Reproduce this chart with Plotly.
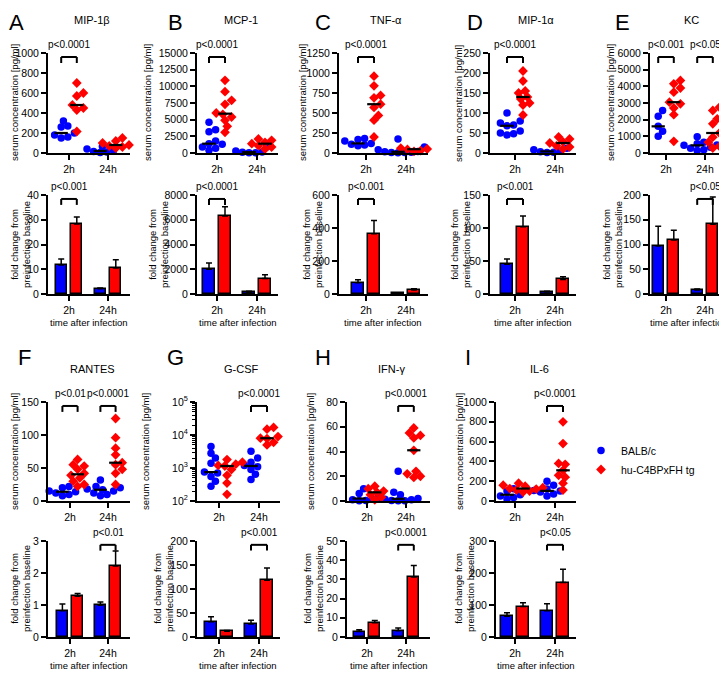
import numpy as np
import plotly.graph_objects as go

W, H = 727, 674
OX, OY = 8, 8   # page body margin: figure origin sits 8px into the window
BLUE = "#0000ff"
RED = "#ff0000"
FONT = "Liberation Sans, Arial, Helvetica, sans-serif"

time_labels = ["2h", "24h"]
group_names = ["BALB/c", "hu-C4BPxFH tg"]

# ---------------- serum concentrations [pg/ml] (individual mice) ----------------
mip1b_balb_2h = [320, 270, 260, 200, 180, 160, 150]
mip1b_tg_2h = [700, 600, 570, 480, 450, 430, 215]
mip1b_balb_24h = [65, 40, 25, 15, 10, 5]
mip1b_tg_24h = [150, 120, 100, 80, 70, 60, 50]

mcp1_balb_2h = [4600, 3500, 3200, 1800, 1400, 1300, 900, 700, 400]
mcp1_tg_2h = [10900, 9200, 7900, 7300, 6000, 5800, 5400, 4900, 4000, 3100]
mcp1_balb_24h = [900, 300, 150, 100, 50, 30]
mcp1_tg_24h = [2400, 2100, 1900, 1600, 1400, 1300, 1100, 900, 600]

tnfa_balb_2h = [180, 170, 150, 120, 110, 100, 90]
tnfa_tg_2h = [960, 840, 720, 690, 610, 570, 470, 410, 200]
tnfa_balb_24h = [175, 75, 40, 20, 15, 10, 5, 5, 3]
tnfa_tg_24h = [75, 60, 50, 45, 30, 20]

mip1a_balb_2h = [100, 80, 75, 70, 68, 55, 50, 48, 45]
mip1a_tg_2h = [205, 180, 155, 150, 140, 135, 125, 120, 95]
mip1a_balb_24h = [12, 8, 5, 3, 2, 1]
mip1a_tg_24h = [40, 35, 30, 28, 25, 22, 18, 15, 10]

kc_balb_2h = [2550, 2200, 1600, 1300, 1000]
kc_tg_2h = [4350, 4150, 3900, 3650, 3050, 2950, 2700, 2300, 700]
kc_balb_24h = [980, 650, 550, 480, 460, 350, 280, 200, 150]
kc_tg_24h = [2750, 2550, 2050, 1750, 1200, 950, 650, 400, 300]

rantes_balb_2h = [22, 20, 15, 14, 12, 10, 8]
rantes_tg_2h = [63, 55, 53, 48, 42, 39, 35, 30, 25, 22]
rantes_balb_24h = [32, 22, 20, 18, 17, 15, 12, 10, 8]
rantes_tg_24h = [125, 96, 80, 70, 58, 55, 48, 42, 25]

gcsf_balb_2h = [4500, 2800, 2000, 1400, 750, 700, 550, 400, 280]
gcsf_tg_2h = [1800, 1500, 1300, 1200, 1150, 900, 600, 350, 160]
gcsf_balb_24h = [3200, 2000, 1500, 1200, 1100, 900, 650, 450]
gcsf_tg_24h = [17000, 15000, 9000, 8000, 7800, 6000, 5000]

ifng_balb_2h = [10, 6, 4, 3, 2, 1.5, 1, 0.5, 0.2]
ifng_tg_2h = [12, 10, 8, 7, 5, 3, 1]
ifng_balb_24h = [24, 7, 5, 3, 2, 1.5, 1, 0.5, 0.3, 0.2]
ifng_tg_24h = [59, 55, 53, 51, 41, 24, 22, 20, 19]

il6_balb_2h = [125, 100, 80, 63, 50, 35, 20]
il6_tg_2h = [180, 160, 150, 135, 126, 120, 110, 100, 90]
il6_balb_24h = [200, 160, 120, 105, 100, 90, 70, 50]
il6_tg_24h = [800, 580, 380, 370, 310, 260, 240, 180, 110]

# ---------------- fold change from preinfection baseline (mean, SEM) [2h, 24h] ----------------
mip1b_fold_balb = [11.7, 2.1]
mip1b_sem_balb = [2.4, 0.3]
mip1b_fold_tg = [28.3, 10.5]
mip1b_sem_tg = [2.8, 3.3]

mcp1_fold_balb = [2000, 150]
mcp1_sem_balb = [500, 80]
mcp1_fold_tg = [6300, 1250]
mcp1_sem_tg = [750, 300]

tnfa_fold_balb = [68, 5]
tnfa_sem_balb = [19, 2]
tnfa_fold_tg = [365, 25]
tnfa_sem_tg = [80, 7]

mip1a_fold_balb = [45, 3]
mip1a_sem_balb = [8, 1]
mip1a_fold_tg = [102, 22]
mip1a_sem_tg = [16, 4]

kc_fold_balb = [97, 8]
kc_sem_balb = [40, 2]
kc_fold_tg = [109, 141]
kc_sem_tg = [20, 55]

rantes_fold_balb = [0.82, 0.99]
rantes_sem_balb = [0.21, 0.10]
rantes_fold_tg = [1.27, 2.22]
rantes_sem_tg = [0.09, 0.47]

gcsf_fold_balb = [32, 27]
gcsf_sem_balb = [10, 8]
gcsf_fold_tg = [12, 118]
gcsf_sem_tg = [1.5, 26]

ifng_fold_balb = [2.8, 3.2]
ifng_sem_balb = [1.0, 1.5]
ifng_fold_tg = [7.4, 31.3]
ifng_sem_tg = [1.2, 6.0]

il6_fold_balb = [65, 82]
il6_sem_balb = [11, 22]
il6_fold_tg = [95, 170]
il6_sem_tg = [12, 42]

# ---------------- panel configuration (window pixel positions) ----------------
panels = [
    dict(letter="A", title="MIP-1β", row=0, L=48, P2=69, P24=108, R=130, lx=16,
         sc=(mip1b_balb_2h, mip1b_balb_24h, mip1b_tg_2h, mip1b_tg_24h), scmax=1000, scd=200,
         bar=(mip1b_fold_balb, mip1b_sem_balb, mip1b_fold_tg, mip1b_sem_tg), bmax=40, bd=10,
         scp=[(0, "p<0.0001")], bp=[(0, "p<0.001")], tsx=14, tbx=20),
    dict(letter="B", title="MCP-1", row=0, L=197, P2=217, P24=257, R=278, lx=175,
         sc=(mcp1_balb_2h, mcp1_balb_24h, mcp1_tg_2h, mcp1_tg_24h), scmax=15000, scd=2500,
         bar=(mcp1_fold_balb, mcp1_sem_balb, mcp1_fold_tg, mcp1_sem_tg), bmax=8000, bd=2000,
         scp=[(0, "p<0.0001")], bp=[(0, "p<0.0001")], tsx=147, tbx=158),
    dict(letter="C", title="TNF-α", row=0, L=339, P2=366, P24=406, R=428, lx=323,
         sc=(tnfa_balb_2h, tnfa_balb_24h, tnfa_tg_2h, tnfa_tg_24h), scmax=1250, scd=250,
         bar=(tnfa_fold_balb, tnfa_sem_balb, tnfa_fold_tg, tnfa_sem_tg), bmax=600, bd=200,
         scp=[(0, "p<0.0001")], bp=[(0, "p<0.001")], tsx=302, tbx=312),
    dict(letter="D", title="MIP-1α", row=0, L=490, P2=515, P24=555, R=576, lx=475,
         sc=(mip1a_balb_2h, mip1a_balb_24h, mip1a_tg_2h, mip1a_tg_24h), scmax=250, scd=50,
         bar=(mip1a_fold_balb, mip1a_sem_balb, mip1a_fold_tg, mip1a_sem_tg), bmax=150, bd=50,
         scp=[(0, "p<0.0001")], bp=[(0, "p<0.001")], tsx=458, tbx=460),
    dict(letter="E", title="KC", row=0, L=650, P2=666, P24=705, R=727, lx=622,
         sc=(kc_balb_2h, kc_balb_24h, kc_tg_2h, kc_tg_24h), scmax=6000, scd=1000,
         bar=(kc_fold_balb, kc_sem_balb, kc_fold_tg, kc_sem_tg), bmax=200, bd=50,
         scp=[(0, "p<0.001"), (1, "p<0.05")], bp=[(1, "p<0.05")], tsx=610, tbx=612),
    dict(letter="F", title="RANTES", row=1, L=48, P2=70, P24=108, R=130, lx=24,
         sc=(rantes_balb_2h, rantes_balb_24h, rantes_tg_2h, rantes_tg_24h), scmax=150, scd=50,
         bar=(rantes_fold_balb, rantes_sem_balb, rantes_fold_tg, rantes_sem_tg), bmax=3, bd=1,
         scp=[(0, "p<0.01"), (1, "p<0.0001")], bp=[(1, "p<0.01")], tsx=14, tbx=20),
    dict(letter="G", title="G-CSF", row=1, L=197, P2=219, P24=259, R=280, lx=175,
         sc=(gcsf_balb_2h, gcsf_balb_24h, gcsf_tg_2h, gcsf_tg_24h), scmax=None, scd=None,
         bar=(gcsf_fold_balb, gcsf_sem_balb, gcsf_fold_tg, gcsf_sem_tg), bmax=200, bd=50,
         scp=[(1, "p<0.0001")], bp=[(1, "p<0.001")], tsx=145, tbx=163),
    dict(letter="H", title="IFN-γ", row=1, L=347, P2=367, P24=406, R=430, lx=323,
         sc=(ifng_balb_2h, ifng_balb_24h, ifng_tg_2h, ifng_tg_24h), scmax=80, scd=20,
         bar=(ifng_fold_balb, ifng_sem_balb, ifng_fold_tg, ifng_sem_tg), bmax=50, bd=10,
         scp=[(1, "p<0.0001")], bp=[(1, "p<0.0001")], tsx=310, tbx=313),
    dict(letter="I", title="IL-6", row=1, L=496, P2=515, P24=555, R=576, lx=468,
         sc=(il6_balb_2h, il6_balb_24h, il6_tg_2h, il6_tg_24h), scmax=1000, scd=200,
         bar=(il6_fold_balb, il6_sem_balb, il6_fold_tg, il6_sem_tg), bmax=300, bd=100,
         scp=[(1, "p<0.0001")], bp=[(1, "p<0.05")], tsx=459, tbx=464),
]

ROWS = [
    dict(sc=(53, 153), bar=(195, 294), title_y=20, letter_top=8, xlab_y=322, tsy=103, tby=245),
    dict(sc=(402, 501), bar=(541, 637), title_y=369, letter_top=343, xlab_y=665, tsy=452, tby=589),
]


def fx(xw):
    return (xw - OX) / W


def fy(yw):
    return 1 - (yw - OY) / H


GOFF = 0.2     # group offset (category units)
BARW = 0.29    # bar width (category units)
MEDW = 0.17    # half width of median line


def swarm(vals, px_per_unit, unit_px, log=False, d=6.3, step=2.2):
    ys = [(np.log10(v) if log else v) * px_per_unit for v in vals]
    order = np.argsort(ys)
    placed = []
    offs = [0.0] * len(vals)
    cands = [0.0] + [s * j * step for j in range(1, 30) for s in (1, -1)]
    for i in order:
        y = ys[i]
        for c in cands:
            if all((c - px) ** 2 + (y - py) ** 2 >= d * d for px, py in placed):
                break
        placed.append((c, y))
        offs[i] = c / unit_px
    return offs


def axis_common():
    return dict(showline=True, linecolor="black", linewidth=2, ticks="outside", ticklen=5,
                tickwidth=2, tickcolor="black", showgrid=False, zeroline=False,
                automargin=False, fixedrange=True,
                tickfont=dict(family=FONT, size=10.5, color="black"))


fig = go.Figure()
layout = dict(width=W, height=H, margin=dict(l=0, r=0, t=0, b=0), paper_bgcolor="white",
              plot_bgcolor="white", font=dict(family=FONT, size=10, color="black"),
              showlegend=True,
              legend=dict(x=fx(581), y=fy(436), xanchor="left", yanchor="top",
                          bgcolor="rgba(0,0,0,0)", font=dict(family=FONT, size=10.5, color="black"),
                          tracegroupgap=0, itemwidth=30))
shapes = []
annotations = []


def bracket(xr, yr, pos, text):
    x0, x1 = pos - GOFF, pos + GOFF
    for (a, b, c, d_) in [(x0, 0.90, x0, 0.96), (x0, 0.96, x1, 0.96), (x1, 0.96, x1, 0.90)]:
        shapes.append(dict(type="line", xref=xr, yref=yr + " domain", x0=a, y0=b, x1=c, y1=d_,
                           line=dict(color="black", width=2)))
    annotations.append(dict(x=pos, y=1.085, xref=xr, yref=yr + " domain", text=text,
                            showarrow=False, yanchor="middle",
                            font=dict(family=FONT, size=10, color="black")))


for i, p in enumerate(panels):
    rg = ROWS[p["row"]]
    u = p["P24"] - p["P2"]
    xrng = [1 - (p["P2"] - p["L"]) / u, 2 + (p["R"] - p["P24"]) / u]
    xdom = [fx(p["L"]), fx(p["R"])]
    cx = (p["L"] + p["R"]) / 2

    # ---------- scatter panel ----------
    n = 2 * i + 1
    xa, ya = ("xaxis", "yaxis") if n == 1 else (f"xaxis{n}", f"yaxis{n}")
    xr, yr = ("x", "y") if n == 1 else (f"x{n}", f"y{n}")
    top, bot = rg["sc"]
    layout[xa] = dict(**axis_common(), domain=xdom, range=xrng, tickmode="array",
                      tickvals=[1, 2], ticktext=time_labels, anchor=yr)
    logax = p["scmax"] is None
    if logax:
        minor_vals = [m * 10 ** e for e in (2, 3, 4) for m in range(2, 10)]
        layout[ya] = dict(**axis_common(), domain=[fy(bot), fy(top)], anchor=xr,
                          type="log", range=[2, 5], tickmode="array",
                          tickvals=[1e2, 1e3, 1e4, 1e5],
                          ticktext=["10<sup>2</sup>", "10<sup>3</sup>", "10<sup>4</sup>", "10<sup>5</sup>"],
                          minor=dict(tickmode="array", tickvals=minor_vals, ticks="outside",
                                     ticklen=3, tickwidth=1, tickcolor="black"))
        ppu = (bot - top) / 3.0
    else:
        layout[ya] = dict(**axis_common(), domain=[fy(bot), fy(top)], anchor=xr,
                          range=[0, p["scmax"]], tickmode="linear", tick0=0, dtick=p["scd"],
                          tickformat="d")
        ppu = (bot - top) / p["scmax"]

    b2, b24, r2, r24 = p["sc"]
    groups = [(b2, b24, -GOFF, BLUE, "circle", 7.5, group_names[0]),
              (r2, r24, GOFF, RED, "diamond", 7.5, group_names[1])]
    for (v2, v24, off, col, sym, size, nm) in groups:
        xs, ys = [], []
        for pos, vals in ((1, v2), (2, v24)):
            offs = swarm(vals, ppu, u, log=logax)
            xs += [pos + off + o for o in offs]
            ys += list(vals)
        fig.add_trace(go.Scatter(x=xs, y=ys, mode="markers", xaxis=xr, yaxis=yr, name=nm,
                                 legendgroup=nm, showlegend=(i == 0), cliponaxis=False,
                                 marker=dict(color=col, symbol=sym, size=size, line=dict(width=0))))
    # median lines
    mx, my = [], []
    for pos, vals, off in ((1, b2, -GOFF), (2, b24, -GOFF), (1, r2, GOFF), (2, r24, GOFF)):
        m = float(np.median(vals))
        mx += [pos + off - MEDW, pos + off + MEDW, None]
        my += [m, m, None]
    fig.add_trace(go.Scatter(x=mx, y=my, mode="lines", xaxis=xr, yaxis=yr, showlegend=False,
                             cliponaxis=False, line=dict(color="black", width=2.2),
                             hoverinfo="skip"))
    for (t, txt) in p["scp"]:
        bracket(xr, yr, t + 1, txt)

    # ---------- bar panel ----------
    n = 2 * i + 2
    xa, ya = f"xaxis{n}", f"yaxis{n}"
    xr, yr = f"x{n}", f"y{n}"
    top, bot = rg["bar"]
    layout[xa] = dict(**axis_common(), domain=xdom, range=xrng, tickmode="array",
                      tickvals=[1, 2], ticktext=time_labels, anchor=yr)
    layout[ya] = dict(**axis_common(), domain=[fy(bot), fy(top)], anchor=xr,
                      range=[0, p["bmax"]], tickmode="linear", tick0=0, dtick=p["bd"],
                      tickformat="d")
    fb, sb, ft, st = p["bar"]
    for (vals, sems, off, col, nm) in ((fb, sb, -GOFF, BLUE, group_names[0]),
                                      (ft, st, GOFF, RED, group_names[1])):
        fig.add_trace(go.Bar(x=[1 + off, 2 + off], y=vals, width=BARW, xaxis=xr, yaxis=yr,
                             showlegend=False, legendgroup=nm, name=nm,
                             marker=dict(color=col, line=dict(color="black", width=1.5)),
                             error_y=dict(type="data", array=sems, arrayminus=[0, 0],
                                          symmetric=False, color="black", thickness=1.5,
                                          width=3)))
    for (t, txt) in p["bp"]:
        bracket(xr, yr, t + 1, txt)

    # ---------- texts ----------
    annotations.append(dict(x=fx(p["lx"]), y=fy(rg["letter_top"]), xref="paper", yref="paper",
                            text=p["letter"], showarrow=False, xanchor="center", yanchor="top",
                            font=dict(family=FONT, size=22, color="black")))
    annotations.append(dict(x=fx(cx + 3), y=fy(rg["title_y"]), xref="paper", yref="paper",
                            text=p["title"], showarrow=False, xanchor="center", yanchor="middle",
                            font=dict(family=FONT, size=11, color="black")))
    annotations.append(dict(x=fx(p["tsx"]), y=fy(rg["tsy"]), xref="paper", yref="paper",
                            text="serum concentration [pg/ml]", textangle=-90, showarrow=False,
                            xanchor="center", yanchor="middle",
                            font=dict(family=FONT, size=9.5, color="black")))
    annotations.append(dict(x=fx(p["tbx"]), y=fy(rg["tby"]), xref="paper", yref="paper",
                            text="fold change from<br>preinfection baseline", textangle=-90,
                            showarrow=False, xanchor="center", yanchor="middle",
                            font=dict(family=FONT, size=9.5, color="black")))
    annotations.append(dict(x=fx(cx), y=fy(rg["xlab_y"]), xref="paper", yref="paper",
                            text="time after infection", showarrow=False, xanchor="center",
                            yanchor="middle", font=dict(family=FONT, size=9.5, color="black")))

layout["shapes"] = shapes
layout["annotations"] = annotations
layout["bargap"] = 0
fig.update_layout(**layout)
fig.write_html("out.html")
